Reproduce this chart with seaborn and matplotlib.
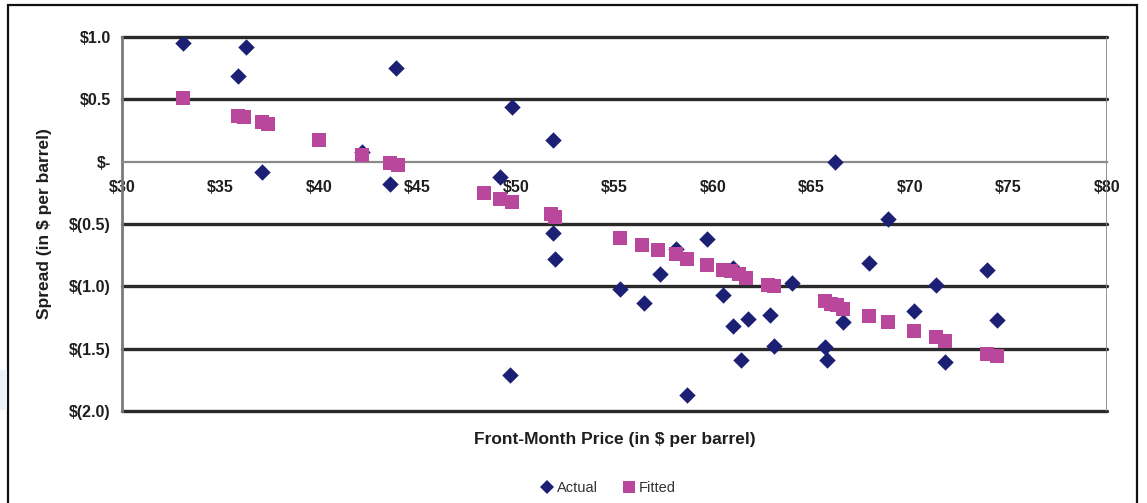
import matplotlib
matplotlib.use("Agg")
import matplotlib.pyplot as plt
import seaborn as sns
import pandas as pd
from matplotlib.patches import Rectangle
from matplotlib.lines import Line2D

# ---- data ----
actual_price = [33.1, 35.9, 36.3, 37.1, 42.2, 43.6, 43.9, 49.2, 49.7, 49.8, 51.9, 51.9, 52.0,
                55.3, 56.5, 57.3, 58.1, 58.7, 59.7, 60.5, 61.0, 61.0, 61.4, 61.8, 62.9, 63.1,
                64.0, 65.7, 65.8, 66.2, 66.6, 67.9, 68.9, 70.2, 71.3, 71.8, 73.9, 74.4]
actual_spread = [0.95, 0.69, 0.92, -0.08, 0.08, -0.18, 0.75, -0.12, -1.71, 0.44, 0.17, -0.57, -0.78,
                 -1.02, -1.13, -0.90, -0.70, -1.87, -0.62, -1.07, -0.85, -1.32, -1.59, -1.26, -1.23, -1.48,
                 -0.97, -1.49, -1.59, 0.00, -1.29, -0.81, -0.46, -1.20, -0.99, -1.61, -0.87, -1.27]

fitted_price = [33.1, 35.9, 36.2, 37.1, 37.4, 40.0, 42.2, 43.6, 44.0, 48.4, 49.2, 49.8, 51.8, 52.0,
                55.3, 56.4, 57.2, 58.1, 58.7, 59.7, 60.5, 60.9, 61.3, 61.7, 62.8, 63.1, 65.7, 66.0,
                66.3, 66.6, 67.9, 68.9, 70.2, 71.3, 71.8, 73.9, 74.4]
fitted_spread = [0.51, 0.37, 0.36, 0.32, 0.30, 0.17, 0.05, -0.01, -0.03, -0.25, -0.30, -0.32, -0.42, -0.44,
                 -0.61, -0.67, -0.71, -0.74, -0.78, -0.83, -0.87, -0.88, -0.90, -0.93, -0.99, -1.00, -1.12, -1.14,
                 -1.15, -1.18, -1.24, -1.29, -1.36, -1.41, -1.44, -1.54, -1.56]

x_ticks = [30, 35, 40, 45, 50, 55, 60, 65, 70, 75, 80]
x_tick_labels = ["$30", "$35", "$40", "$45", "$50", "$55", "$60", "$65", "$70", "$75", "$80"]
y_ticks = [1.0, 0.5, 0.0, -0.5, -1.0, -1.5, -2.0]
y_tick_labels = ["$1.0", "$0.5", "$-", "$(0.5)", "$(1.0)", "$(1.5)", "$(2.0)"]
grid_levels = [1.0, 0.5, -0.5, -1.0, -1.5, -2.0]

series_names = ["Actual", "Fitted"]
x_title = "Front-Month Price (in $ per barrel)"
y_title = "Spread (in $ per barrel)"

# ---- style ----
sns.set_style("white")
plt.rcParams["font.family"] = ["Liberation Sans", "DejaVu Sans"]

navy = "#1b2075"
magenta = "#b9489c"
text_col = "#1e1e1e"

fig = plt.figure(figsize=(11.47, 5.03), dpi=100)
ax = fig.add_axes([122 / 1147, 1 - 411 / 503, (1107 - 122) / 1147, (411 - 37) / 503])

df_a = pd.DataFrame({"price": actual_price, "spread": actual_spread})
df_f = pd.DataFrame({"price": fitted_price, "spread": fitted_spread})

sns.scatterplot(data=df_a, x="price", y="spread", marker="D", s=70, color=navy,
                linewidth=0, ax=ax, zorder=3, legend=False)
sns.scatterplot(data=df_f, x="price", y="spread", marker="s", s=88, color=magenta,
                linewidth=0, ax=ax, zorder=4, legend=False)

ax.set_xlim(x_ticks[0], x_ticks[-1])
ax.set_ylim(min(y_ticks), max(y_ticks))

for lvl in grid_levels:
    ax.axhline(lvl, color="#2a2a2a", lw=2.4, zorder=1, clip_on=False)

# x axis at zero
for side in ["top", "right"]:
    ax.spines[side].set_visible(False)
ax.spines["bottom"].set_position(("data", 0))
ax.spines["bottom"].set_color("#8a8a8a")
ax.spines["bottom"].set_linewidth(1.6)
ax.spines["left"].set_color("#7a7a7a")
ax.spines["left"].set_linewidth(2.0)
ax.axvline(x_ticks[-1], color="#8a8a8a", lw=2.0, zorder=1)

ax.set_xticks(x_ticks)
ax.set_xticklabels(x_tick_labels, fontweight="bold", fontsize=11.5, color=text_col)
ax.set_yticks(y_ticks)
ax.set_yticklabels(y_tick_labels, fontweight="bold", fontsize=11.5, color=text_col)
ax.tick_params(axis="x", direction="out", length=4, width=1, color="#8a8a8a", pad=9)
ax.tick_params(axis="y", direction="out", length=4, width=1, color="#8a8a8a", pad=4)

ax.set_xlabel(x_title, fontweight="bold", fontsize=12.5, color=text_col)
ax.xaxis.set_label_coords(0.5, -0.056)
ax.set_ylabel(y_title, fontweight="bold", fontsize=12.5, color=text_col)
ax.yaxis.set_label_coords(-0.071, 0.5)

# legend
handles = [
    Line2D([], [], marker="D", color=navy, linestyle="none", markersize=7.5, markeredgewidth=0),
    Line2D([], [], marker="s", color=magenta, linestyle="none", markersize=9, markeredgewidth=0),
]
fig.legend(handles, series_names, loc="center", bbox_to_anchor=(0.530, 0.030), ncol=2,
           frameon=False, fontsize=10.5, handletextpad=0.2, columnspacing=1.6,
           labelcolor="#333333", handlelength=1.0)

# outer frame and small left patch
fig.patches.append(Rectangle((8 / 1147, -0.02), (1137 - 8) / 1147, 1 - 5 / 503 + 0.02,
                             transform=fig.transFigure, fill=False, edgecolor="#111111",
                             linewidth=1.6, zorder=0))
fig.patches.append(Rectangle((0, 1 - 410 / 503), 7 / 1147, 40 / 503, transform=fig.transFigure,
                             facecolor="#edf2fa", edgecolor="none", zorder=0))

fig.savefig("out.png", dpi=100)
